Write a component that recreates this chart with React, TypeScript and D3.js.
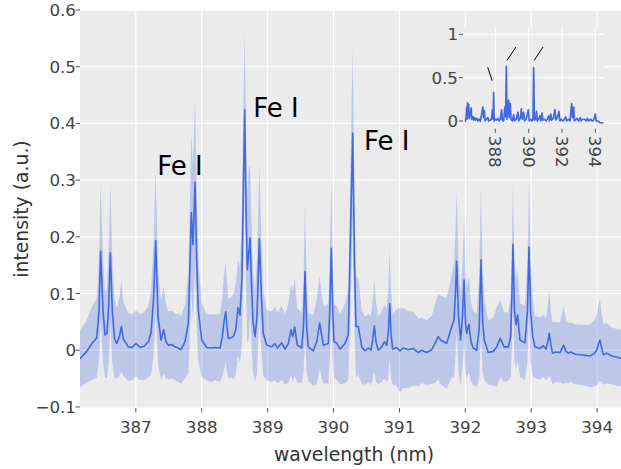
import React from 'react';
import * as d3 from 'd3';

// mean spectrum with one-sd band (main panel)
const wavelength = [
  386.153, 386.255, 386.335, 386.407, 386.442, 386.466, 386.502, 386.533, 386.563, 386.589,
  386.613, 386.643, 386.677, 386.710, 386.753, 386.780, 386.810, 386.886, 386.942, 387.003,
  387.064, 387.124, 387.190, 387.231, 387.269, 387.302, 387.337, 387.382, 387.423, 387.458,
  387.493, 387.549, 387.595, 387.640, 387.686, 387.746, 387.797, 387.822, 387.842, 387.868,
  387.898, 387.924, 387.948, 388.000, 388.076, 388.141, 388.202, 388.278, 388.312, 388.338,
  388.364, 388.384, 388.403, 388.444, 388.479, 388.516, 388.551, 388.581, 388.611, 388.634,
  388.652, 388.672, 388.692, 388.713, 388.733, 388.755, 388.778, 388.809, 388.839, 388.874,
  388.904, 388.934, 388.986, 389.021, 389.062, 389.112, 389.147, 389.214, 389.264, 389.314,
  389.355, 389.381, 389.411, 389.450, 389.517, 389.544, 389.567, 389.593, 389.617, 389.693,
  389.745, 389.790, 389.845, 389.921, 389.943, 389.966, 389.989, 390.007, 390.048, 390.098,
  390.174, 390.224, 390.260, 390.291, 390.318, 390.341, 390.376, 390.428, 390.478, 390.528,
  390.568, 390.596, 390.618, 390.644, 390.679, 390.731, 390.770, 390.807, 390.831, 390.852,
  390.872, 390.898, 390.958, 391.008, 391.059, 391.134, 391.210, 391.286, 391.338, 391.414,
  391.490, 391.540, 391.590, 391.626, 391.717, 391.793, 391.828, 391.850, 391.868, 391.896,
  391.929, 391.956, 391.980, 392.002, 392.020, 392.055, 392.085, 392.120, 392.172, 392.211,
  392.237, 392.263, 392.287, 392.348, 392.424, 392.476, 392.530, 392.587, 392.652, 392.688,
  392.705, 392.723, 392.745, 392.768, 392.794, 392.829, 392.905, 392.943, 392.966, 392.991,
  393.022, 393.057, 393.133, 393.183, 393.224, 393.251, 393.274, 393.300, 393.325, 393.375,
  393.436, 393.492, 393.527, 393.562, 393.603, 393.664, 393.740, 393.816, 393.892, 393.953,
  393.993, 394.020, 394.043, 394.069, 394.093, 394.145, 394.221, 394.286, 394.362,
];

const meanIntensity = [
  -0.015, -0.002, 0.012, 0.022, 0.07, 0.175, 0.07, 0.027, 0.03, 0.08,
  0.172, 0.07, 0.02, 0.012, 0.025, 0.042, 0.02, 0.006, 0.005, 0.012,
  0.005, 0.007, 0.015, 0.031, 0.09, 0.193, 0.06, 0.018, 0.036, 0.015,
  0.009, 0.01, 0.006, 0.004, 0.001, 0.015, 0.048, 0.15, 0.243, 0.186,
  0.296, 0.16, 0.071, 0.018, 0.005, 0.004, 0.005, 0.004, 0.024, 0.05,
  0.068, 0.04, 0.021, 0.022, 0.024, 0.036, 0.075, 0.062, 0.13, 0.3,
  0.424, 0.25, 0.142, 0.17, 0.198, 0.12, 0.05, 0.024, 0.06, 0.196,
  0.1, 0.03, 0.009, 0.008, 0.006, 0.012, 0.004, 0.013, 0.002, 0.012,
  0.036, 0.024, 0.041, 0.009, 0.004, 0.04, 0.139, 0.04, 0.006, -0.001,
  0.015, 0.048, 0.009, 0.012, 0.07, 0.18, 0.07, 0.015, 0.013, 0.002,
  0.012, 0.027, 0.218, 0.383, 0.15, 0.042, 0.042, 0.006, -0.001, 0.004,
  0.0, 0.02, 0.043, 0.015, 0.0, 0.006, 0.015, 0.009, 0.03, 0.082,
  0.03, 0.002, 0.005, -0.001, 0.004, 0.001, 0.003, -0.004, 0.0, -0.004,
  0.001, 0.012, 0.024, 0.018, 0.012, 0.042, 0.053, 0.1, 0.157, 0.06,
  0.018, 0.06, 0.124, 0.05, 0.03, 0.046, 0.015, 0.004, 0.0, 0.04,
  0.159, 0.05, 0.018, -0.004, -0.002, 0.006, 0.021, 0.006, 0.006, 0.024,
  0.09, 0.187, 0.07, 0.045, 0.062, 0.018, 0.013, 0.07, 0.182, 0.07,
  0.024, 0.006, 0.003, 0.008, 0.002, 0.015, 0.03, 0.008, -0.005, -0.003,
  -0.004, 0.009, -0.002, -0.005, -0.003, -0.007, -0.008, -0.009, -0.01, -0.006,
  0.0, 0.012, 0.018, 0.004, -0.008, -0.005, -0.01, -0.012, -0.014,
];

const sdIntensity = [
  0.05, 0.055, 0.065, 0.07, 0.09, 0.12, 0.09, 0.075, 0.08, 0.1,
  0.123, 0.09, 0.07, 0.062, 0.07, 0.08, 0.065, 0.06, 0.058, 0.058,
  0.058, 0.06, 0.063, 0.075, 0.1, 0.125, 0.085, 0.07, 0.077, 0.065,
  0.06, 0.06, 0.058, 0.06, 0.06, 0.065, 0.09, 0.12, 0.137, 0.14,
  0.145, 0.12, 0.09, 0.065, 0.058, 0.06, 0.058, 0.06, 0.07, 0.085,
  0.088, 0.08, 0.07, 0.07, 0.075, 0.08, 0.084, 0.085, 0.12, 0.14,
  0.138, 0.135, 0.13, 0.15, 0.129, 0.11, 0.09, 0.08, 0.1, 0.128,
  0.1, 0.075, 0.062, 0.062, 0.062, 0.065, 0.062, 0.065, 0.062, 0.07,
  0.08, 0.08, 0.086, 0.065, 0.062, 0.08, 0.117, 0.08, 0.06, 0.062,
  0.075, 0.082, 0.068, 0.07, 0.09, 0.12, 0.09, 0.065, 0.065, 0.062,
  0.07, 0.08, 0.13, 0.15, 0.12, 0.09, 0.085, 0.065, 0.06, 0.06,
  0.062, 0.07, 0.081, 0.07, 0.06, 0.062, 0.065, 0.065, 0.08, 0.095,
  0.08, 0.062, 0.068, 0.075, 0.07, 0.068, 0.065, 0.06, 0.058, 0.057,
  0.06, 0.07, 0.075, 0.078, 0.08, 0.09, 0.1, 0.11, 0.123, 0.1,
  0.08, 0.09, 0.109, 0.09, 0.08, 0.085, 0.07, 0.065, 0.065, 0.09,
  0.13, 0.09, 0.07, 0.057, 0.06, 0.07, 0.068, 0.062, 0.06, 0.07,
  0.09, 0.105, 0.09, 0.08, 0.08, 0.065, 0.065, 0.09, 0.118, 0.09,
  0.07, 0.055, 0.055, 0.055, 0.055, 0.065, 0.073, 0.06, 0.055, 0.053,
  0.053, 0.068, 0.055, 0.053, 0.052, 0.053, 0.053, 0.054, 0.055, 0.058,
  0.062, 0.068, 0.072, 0.06, 0.053, 0.053, 0.05, 0.05, 0.05,
];

// single spectrum shown in the inset
const insetWavelength = [
  386.20, 386.25, 386.28, 386.31, 386.34, 386.37, 386.40, 386.43, 386.50, 386.55,
  386.58, 386.66, 386.70, 386.76, 386.82, 386.90, 386.96, 387.03, 387.10, 387.18,
  387.25, 387.30, 387.34, 387.38, 387.46, 387.55, 387.60, 387.70, 387.78, 387.82,
  387.86, 387.90, 387.93, 388.00, 388.08, 388.15, 388.22, 388.30, 388.38, 388.42,
  388.50, 388.57, 388.62, 388.66, 388.70, 388.76, 388.80, 388.84, 388.90, 388.94,
  389.02, 389.10, 389.15, 389.25, 389.36, 389.40, 389.50, 389.56, 389.62, 389.70,
  389.75, 389.85, 389.98, 390.03, 390.12, 390.20, 390.26, 390.30, 390.34, 390.42,
  390.47, 390.52, 390.62, 390.68, 390.72, 390.80, 390.85, 390.95, 391.05, 391.15,
  391.20, 391.25, 391.33, 391.38, 391.48, 391.58, 391.63, 391.72, 391.82, 391.87,
  391.96, 392.05, 392.12, 392.22, 392.28, 392.38, 392.48, 392.58, 392.63, 392.70,
  392.74, 392.85, 392.92, 393.00, 393.10, 393.15, 393.25, 393.35, 393.45, 393.52,
  393.60, 393.72, 393.80, 393.90, 394.00, 394.05, 394.15, 394.30, 394.48,
];

const insetIntensity = [
  -0.01, 0.05, 0.16, 0.02, 0.21, 0.06, 0.19, 0.03, 0.08, 0.15,
  0.02, 0.05, 0.01, 0.04, 0.01, 0.03, 0.0, 0.02, 0.0, 0.08,
  0.16, 0.04, 0.12, 0.0, 0.02, 0.04, 0.0, 0.01, 0.03, 0.13,
  0.02, 0.33, 0.0, 0.02, 0.01, 0.03, 0.0, 0.02, 0.13, 0.01,
  0.0, 0.16, 0.05, 0.63, 0.02, 0.12, 0.24, 0.04, 0.2, 0.02,
  0.0, 0.07, 0.0, 0.02, 0.1, 0.0, 0.03, 0.14, 0.02, 0.1,
  0.0, 0.02, 0.13, 0.0, 0.02, 0.0, 0.03, 0.615, 0.01, 0.02,
  0.11, 0.0, 0.03, 0.06, 0.0, 0.09, 0.01, 0.02, 0.0, 0.03,
  0.06, 0.0, 0.08, 0.01, 0.03, 0.13, 0.01, 0.04, 0.11, 0.0,
  0.02, 0.0, 0.01, 0.05, 0.0, 0.02, 0.0, 0.2, 0.04, 0.16,
  0.0, 0.02, 0.03, 0.0, 0.04, 0.0, 0.02, 0.02, 0.0, 0.03,
  0.0, 0.02, 0.0, 0.01, 0.08, 0.0, 0.0, -0.02, -0.02,
];

const xTicks = [387, 388, 389, 390, 391, 392, 393, 394];
const yTicks = [-0.1, 0, 0.1, 0.2, 0.3, 0.4, 0.5, 0.6];
const insetXTicks = [388, 390, 392, 394];
const insetYTicks = [0, 0.5, 1];

const lineLabels = [
  { text: 'Fe I', wl: 387.326, value: 0.309 },
  { text: 'Fe I', wl: 388.783, value: 0.412 },
  { text: 'Fe I', wl: 390.462, value: 0.353 },
];

// little leader strokes in the inset (inset data coords)
const insetMarks = [
  { x1: 387.54, y1: 0.62, x2: 387.81, y2: 0.465 },
  { x1: 388.70, y1: 0.70, x2: 389.24, y2: 0.855 },
  { x1: 390.33, y1: 0.70, x2: 390.87, y2: 0.855 },
];

const W = 621;
const H = 469;
const panel = { left: 80, right: 621, top: 10, bottom: 408 };
const inset = { left: 463, right: 604, top: 27.4, bottom: 128.8 };

const bg = '#EBEBEB';
const blue = '#4169E1';
const tickColor = '#444';
const sans = '"DejaVu Sans", Verdana, sans-serif';

export default function App() {
  const x = d3.scaleLinear().domain([386.153, 394.362]).range([panel.left, panel.right]);
  const y = d3.scaleLinear().domain([-0.1018, 0.6]).range([panel.bottom, panel.top]);

  const ix = d3.scaleLinear().domain([386.06, 394.52]).range([inset.left, inset.right]);
  const iy = d3.scaleLinear().domain([-0.09, 1.08]).range([inset.bottom, inset.top]);

  const idx = d3.range(wavelength.length);

  const band = d3.area<number>()
    .x(i => x(wavelength[i]))
    .y0(i => y(meanIntensity[i] - sdIntensity[i]))
    .y1(i => y(meanIntensity[i] + sdIntensity[i]));

  const meanLine = d3.line<number>()
    .x(i => x(wavelength[i]))
    .y(i => y(meanIntensity[i]));

  const insetLine = d3.line<number>()
    .x(i => ix(insetWavelength[i]))
    .y(i => iy(insetIntensity[i]));

  const fmt = d3.format('~g');

  return (
    <div style={{ position: 'absolute', left: 0, top: 0 }}>
      <svg width={W} height={H} style={{ display: 'block', background: '#fff' }}>
        <defs>
          <clipPath id="main-clip">
            <rect x={panel.left} y={panel.top} width={panel.right - panel.left} height={panel.bottom - panel.top} />
          </clipPath>
          <clipPath id="inset-clip">
            <rect x={inset.left} y={inset.top} width={inset.right - inset.left} height={inset.bottom - inset.top} />
          </clipPath>
        </defs>

        {/* main panel */}
        <rect x={panel.left} y={panel.top} width={panel.right - panel.left} height={panel.bottom - panel.top} fill={bg} />
        {xTicks.map(t => (
          <line key={'gx' + t} x1={x(t)} x2={x(t)} y1={panel.top} y2={panel.bottom} stroke="#fff" strokeWidth={1.1} />
        ))}
        {yTicks.map(t => (
          <line key={'gy' + t} x1={panel.left} x2={panel.right} y1={y(t)} y2={y(t)} stroke="#fff" strokeWidth={1.1} />
        ))}

        <g clipPath="url(#main-clip)">
          <path d={band(idx) || ''} fill={blue} fillOpacity={0.27} stroke="none" />
          <path d={meanLine(idx) || ''} fill="none" stroke={blue} strokeWidth={1.6} strokeLinejoin="round" />
        </g>

        {lineLabels.map((d, i) => (
          <text key={'lab' + i} x={x(d.wl)} y={y(d.value)} fontFamily={sans} fontSize={26} fill="#000">
            {d.text}
          </text>
        ))}

        {/* main axes */}
        {xTicks.map(t => (
          <g key={'tx' + t}>
            <line x1={x(t)} x2={x(t)} y1={panel.bottom} y2={panel.bottom + 4.5} stroke="#555" strokeWidth={1} />
            <text x={x(t)} y={433} textAnchor="middle" fontFamily={sans} fontSize={16.7} fill={tickColor}>
              {fmt(t)}
            </text>
          </g>
        ))}
        {yTicks.map(t => (
          <g key={'ty' + t}>
            <line x1={panel.left - 4.5} x2={panel.left} y1={y(t)} y2={y(t)} stroke="#555" strokeWidth={1} />
            <text x={panel.left - 4} y={y(t) + 6} textAnchor="end" fontFamily={sans} fontSize={16.7} fill={tickColor}>
              {fmt(t)}
            </text>
          </g>
        ))}
        <text x={354} y={461} textAnchor="middle" fontFamily={sans} fontSize={18.8} fill="#333">
          wavelength (nm)
        </text>
        <text transform={`translate(28,${(panel.top + panel.bottom) / 2}) rotate(-90)`} textAnchor="middle"
          fontFamily={sans} fontSize={18.8} fill="#333">
          intensity (a.u.)
        </text>

        {/* inset */}
        <rect x={inset.left} y={inset.top} width={inset.right - inset.left} height={inset.bottom - inset.top} fill={bg} />
        {insetXTicks.map(t => (
          <line key={'igx' + t} x1={ix(t)} x2={ix(t)} y1={inset.top} y2={inset.bottom} stroke="#fff" strokeWidth={1.1} />
        ))}
        {insetYTicks.map(t => (
          <line key={'igy' + t} x1={inset.left} x2={inset.right} y1={iy(t)} y2={iy(t)} stroke="#fff" strokeWidth={1.1} />
        ))}
        <g clipPath="url(#inset-clip)">
          <path d={insetLine(d3.range(insetWavelength.length)) || ''} fill="none" stroke={blue} strokeWidth={1.7} strokeLinejoin="round" />
        </g>
        {insetMarks.map((m, i) => (
          <line key={'im' + i} x1={ix(m.x1)} y1={iy(m.y1)} x2={ix(m.x2)} y2={iy(m.y2)} stroke="#000" strokeWidth={1} />
        ))}
        {insetXTicks.map(t => (
          <g key={'itx' + t}>
            <line x1={ix(t)} x2={ix(t)} y1={inset.bottom} y2={inset.bottom + 4} stroke="#555" strokeWidth={1} />
            <text transform={`translate(${ix(t) - 6},${inset.bottom + 7}) rotate(90)`} textAnchor="start"
              fontFamily={sans} fontSize={16.7} fill={tickColor}>
              {fmt(t)}
            </text>
          </g>
        ))}
        {insetYTicks.map(t => (
          <g key={'ity' + t}>
            <line x1={inset.left - 4} x2={inset.left} y1={iy(t)} y2={iy(t)} stroke="#555" strokeWidth={1} />
            <text x={inset.left - 5} y={iy(t) + 6} textAnchor="end" fontFamily={sans} fontSize={16.7} fill={tickColor}>
              {fmt(t)}
            </text>
          </g>
        ))}
      </svg>
    </div>
  );
}
